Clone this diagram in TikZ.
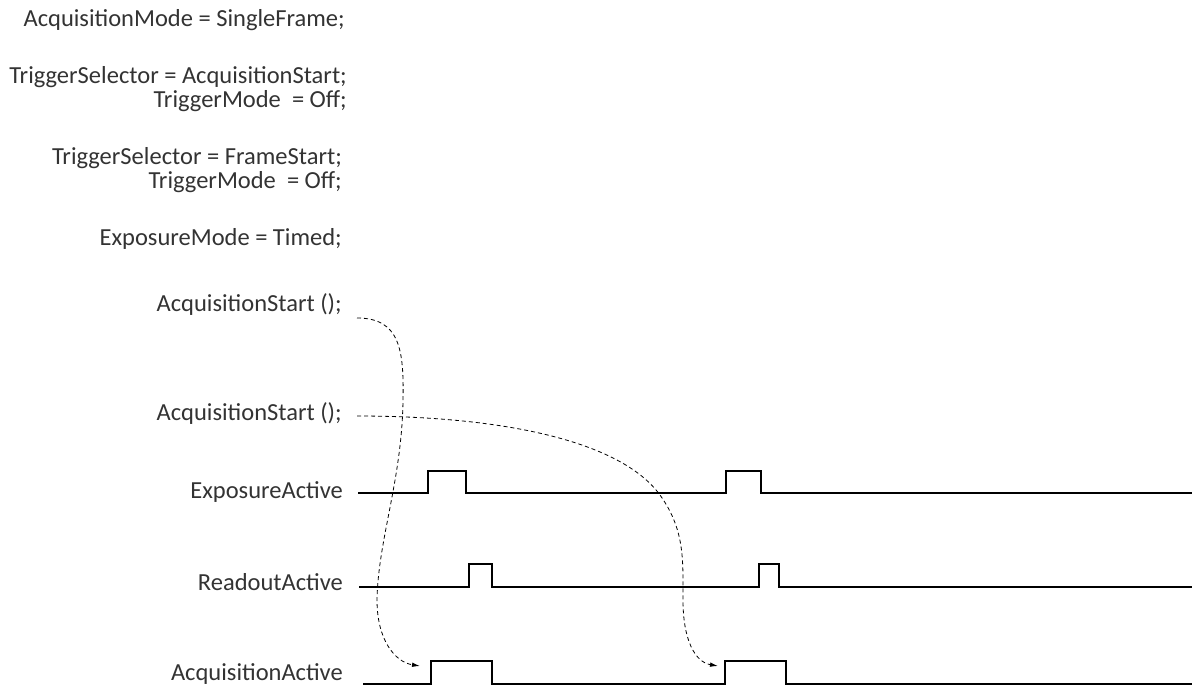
\documentclass[tikz,border=0pt]{standalone}
\usepackage{fontspec}
\setmainfont{Carlito}
\usetikzlibrary{arrows.meta}
\begin{document}
\begin{tikzpicture}[x=1pt,y=-1pt,
  lbl/.style={anchor=east,inner sep=0pt,font=\fontsize{24.5}{29}\selectfont,text=black!80},
  sig/.style={line width=2.5pt,line join=miter},
  flow/.style={dashed,dash pattern=on 4pt off 3pt,line width=0.8pt,-{Latex[length=8pt,width=4.5pt]}}]
\useasboundingbox (0,0) rectangle (1192,691);
% settings text
\node[lbl] (t1) at (345,20) {AcquisitionMode = SingleFrame;};
\node[lbl] (t2) at (347,77) {TriggerSelector = AcquisitionStart;};
\node[lbl] (t3) at (347,101) {TriggerMode\ \ = Off;};
\node[lbl] (t4) at (342,158) {TriggerSelector = FrameStart;};
\node[lbl] (t5) at (342,182) {TriggerMode\ \ = Off;};
\node[lbl] (t6) at (342,239) {ExposureMode = Timed;};
\node[lbl] (a1) at (342,305) {AcquisitionStart ();};
\node[lbl] (a2) at (342,414) {AcquisitionStart ();};
\node[lbl] (ea) at (343,492) {ExposureActive};
\node[lbl] (ra) at (343,582) {ReadoutActive};
\node[lbl] (aa) at (343,674) {AcquisitionActive};
% signals
\coordinate (eas) at (358,493);
\coordinate (ras) at (359,587);
\coordinate (aas) at (363,684);
\draw[sig] (eas) -- (428,493) -- (428,471) -- (466,471) -- (466,493) -- (726,493) -- (726,471) -- (761,471) -- (761,493) -- (1192,493);
\draw[sig] (ras) -- (469,587) -- (469,564) -- (492,564) -- (492,587) -- (759,587) -- (759,564) -- (779,564) -- (779,587) -- (1192,587);
\draw[sig] (aas) -- (431,684) -- (431,661) -- (492,661) -- (492,684) -- (725,684) -- (725,661) -- (786,661) -- (786,684) -- (1192,684);
% dashed flows
\coordinate (c1s) at (357,318);
\coordinate (c1e) at (420,666);
\coordinate (c2s) at (357,416);
\coordinate (c2e) at (718,666);
\draw[flow] (c1s) .. controls (400,318) and (404,350) .. (403,400)
  .. controls (402,480) and (378,540) .. (377,600)
  .. controls (377,640) and (395,662) .. (c1e);
\draw[flow] (c2s) .. controls (500,416) and (620,440) .. (660,495)
  .. controls (685,530) and (683,560) .. (683,600)
  .. controls (683,640) and (695,662) .. (c2e);
\end{tikzpicture}
\end{document}
